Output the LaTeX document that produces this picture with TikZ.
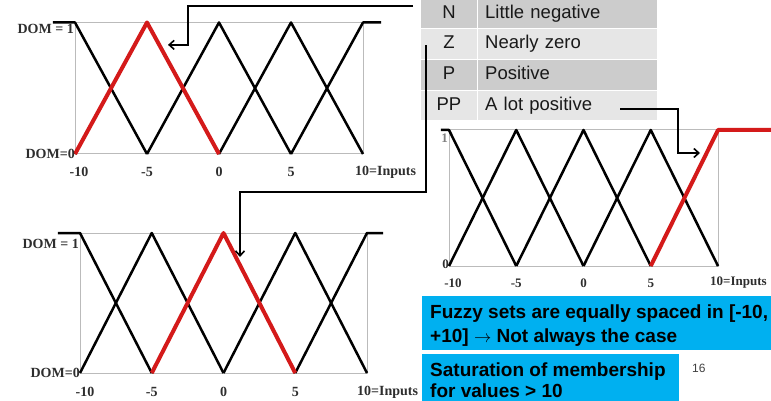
\documentclass[tikz,border=0pt]{standalone}
\usepackage{fontspec}
\setmainfont{Liberation Sans}
\newfontfamily\chartfont{Liberation Serif}
\usetikzlibrary{arrows.meta,calc}
\definecolor{rowdark}{HTML}{CCCCCC}
\definecolor{rowlight}{HTML}{E6E6E6}
\definecolor{boxblue}{HTML}{00B0F0}
\definecolor{mfred}{HTML}{D41A1A}
\definecolor{framegray}{HTML}{BBBBBB}
\definecolor{labgray}{HTML}{2E2E2E}
\definecolor{pagegray}{HTML}{404040}
\newcommand\blackmfs[2]{%
  \draw[mf] (-#1,1) -- (0,1) -- (1,0);
  \draw[mf] (0,0) -- (1,1) -- (2,0);
  \draw[mf] (1,0) -- (2,1) -- (3,0);
  \draw[mf] (2,0) -- (3,1) -- (4,0);
  \draw[mf] (3,0) -- (4,1) -- (4+#2,1);
}
\begin{document}
\begin{tikzpicture}[x=1pt,y=-1pt,
  mf/.style={line width=2.5pt, black, line join=round},
  mfhot/.style={line width=4pt, mfred, line join=round},
  chartframe/.style={line width=1pt, framegray},
  axlab/.style={font=\chartfont\bfseries\fontsize{14}{14}\selectfont, text=labgray, inner sep=0pt},
  axlabs/.style={font=\chartfont\bfseries\fontsize{13}{13}\selectfont, text=labgray, inner sep=0pt},
  cellbase/.style={anchor=north west, minimum height=29.5pt, inner ysep=0pt,
     text height=13.3pt, text depth=4pt, font=\fontsize{18.5}{20}\selectfont, text=black!90},
  keycell/.style={cellbase, minimum width=55.5pt, inner xsep=0pt},
  namecell/.style={cellbase, text width=165pt, inner xsep=7pt, align=left},
  conn/.style={line width=2pt, line join=miter, -{Straight Barb[length=5pt,width=9pt,line width=1.6pt]}},
  bluebox/.style={fill=boxblue, draw=none, anchor=north west, inner sep=0pt},
  btext/.style={font=\bfseries\fontsize{19}{24}\selectfont, inner sep=0pt, anchor=base west, text=black},
  chartA/.style={shift={(75,154)}, x=72pt, y=131.5pt},
  chartB/.style={shift={(80,373)}, x=71.75pt, y=140pt},
  chartC/.style={shift={(449,266)}, x=67.25pt, y=136pt}
]
\useasboundingbox (0,0) rectangle (771,401);

% ---------- chart 1 (N) ----------
\begin{scope}[chartA]
  \draw[chartframe] (0,0) rectangle (4,1);
  \blackmfs{0.306}{0.25}
  \draw[mfhot] (0,0) -- (1,1) -- (2,0);
  \node[axlab, anchor=east] (c1dom1) at ([xshift=-1pt,yshift=-6pt]0,1) {DOM = 1};
  \node[axlab, anchor=east] (c1dom0) at (0,0) {DOM=0};
  \node[axlab] (c1t0) at ([xshift=4pt,yshift=-18pt]0,0) {-10};
  \node[axlab] (c1t1) at ([yshift=-18pt]1,0) {-5};
  \node[axlab] (c1t2) at ([yshift=-18pt]2,0) {0};
  \node[axlab] (c1t3) at ([yshift=-18pt]3,0) {5};
  \node[axlab, anchor=west] (c1t4) at ([xshift=-8pt,yshift=-18pt]4,0) {10=Inputs};
  \coordinate (a1) at ([xshift=21pt]1,0.83);
\end{scope}

% ---------- chart 2 (Z) ----------
\begin{scope}[chartB]
  \draw[chartframe] (0,0) rectangle (4,1);
  \blackmfs{0.307}{0.223}
  \draw[mfhot] (1,0) -- (2,1) -- (3,0);
  \node[axlab, anchor=east] (c2dom1) at ([xshift=-1pt,yshift=-11pt]0,1) {DOM = 1};
  \node[axlab, anchor=east] (c2dom0) at (0,0) {DOM=0};
  \node[axlab] (c2t0) at ([xshift=5pt,yshift=-19pt]0,0) {-10};
  \node[axlab] (c2t1) at ([yshift=-19pt]1,0) {-5};
  \node[axlab] (c2t2) at ([yshift=-19pt]2,0) {0};
  \node[axlab] (c2t3) at ([yshift=-19pt]3,0) {5};
  \node[axlab, anchor=west] (c2t4) at ([xshift=-10pt,yshift=-19pt]4,0) {10=Inputs};
\end{scope}
\coordinate (a2) at (240,257);

% ---------- chart 3 (PP) ----------
\begin{scope}[chartC]
  \draw[chartframe] (0,0) rectangle (4,1);
  \blackmfs{0.12}{0}
  \draw[mfhot] (3,0) -- (4,1) -- (4.9,1);
  \node[axlabs, anchor=east, text=gray] (c3dom1) at ([xshift=-1pt,yshift=-8pt]0,1) {1};
  \node[axlabs, anchor=east] (c3dom0) at ([yshift=2pt]0,0) {0};
  \node[axlabs] (c3t0) at ([xshift=4pt,yshift=-17pt]0,0) {-10};
  \node[axlabs] (c3t1) at ([yshift=-17pt]1,0) {-5};
  \node[axlabs] (c3t2) at ([yshift=-17pt]2,0) {0};
  \node[axlabs] (c3t3) at ([yshift=-17pt]3,0) {5};
  \node[axlabs, anchor=west] (c3t4) at ([xshift=-8pt,yshift=-17pt]4,0) {10=Inputs};
\end{scope}
\coordinate (a3) at (700,153);

% ---------- table ----------
\node[keycell, fill=rowdark]   (cN1)  at (421,-1.5) {N};
\node[namecell, fill=rowdark]  (cN2)  at (478,-1.5) {Little negative};
\node[keycell, fill=rowlight]  (cZ1)  at (421,29.3) {Z};
\node[namecell, fill=rowlight] (cZ2)  at (478,29.3) {Nearly zero};
\node[keycell, fill=rowdark]   (cP1)  at (421,60)   {P};
\node[namecell, fill=rowdark]  (cP2)  at (478,60)   {Positive};
\node[keycell, fill=rowlight]  (cPP1) at (421,90.8) {PP};
\node[namecell, fill=rowlight] (cPP2) at (478,90.8) {A lot positive};

% ---------- connectors ----------
\draw[conn] ($(cN1.north west)+(-8,7.5)$) -| ($(a1)+(20,0)$) -- (a1);
\draw[conn] ($(cZ1.west)+(5,1)$) -- ++(0,147) -| (a2);
\draw[conn] ($(cPP2.east)+(-37,3)$) -| ($(a3)+(-22,0)$) -- (a3);

% ---------- blue boxes ----------
\node[bluebox, minimum width=352pt, minimum height=54pt] (box1) at (422,296) {};
\node[btext] (box1a) at (430,318) {Fuzzy sets are equally spaced in [-10,};
\node[btext] (box1b) at (430,342) {+10] $\rightarrow$ Not always the case};
\node[bluebox, minimum width=257pt, minimum height=50pt] (box2) at (422,354) {};
\node[btext] (box2a) at (430,376) {Saturation of membership};
\node[btext] (box2b) at (430,397) {for values > 10};
\node[font=\fontsize{12}{12}\selectfont, text=pagegray, inner sep=0pt, anchor=base west] (pgno) at (692,372) {16};
\end{tikzpicture}
\end{document}
